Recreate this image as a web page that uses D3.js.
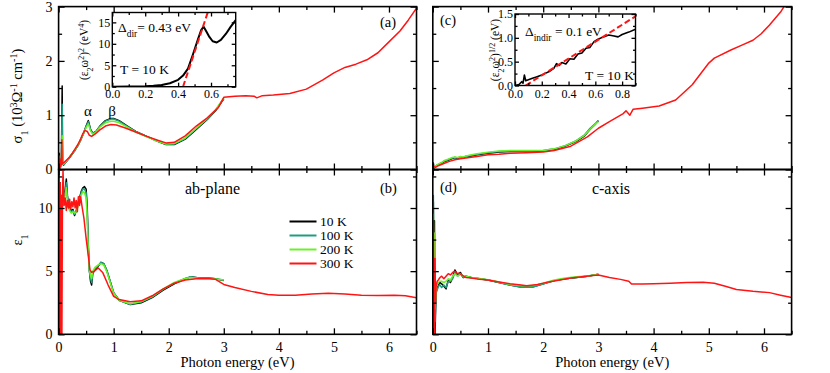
<!DOCTYPE html>
<html>
<head>
<meta charset="utf-8">
<script src="https://cdn.jsdelivr.net/npm/d3@7"></script>
<style>
  body { margin: 0; background: #fff; }
  svg { display: block; }
</style>
</head>
<body>
<div id="chart"></div>
<script>
// ---- data ----
const temps = ["10 K", "100 K", "200 K", "300 K"];
const colors = ["#000000", "#1f9e7e", "#6cf02a", "#ff1414"];

const energyTicks = [0, 1, 2, 3, 4, 5, 6];
const sigmaTicks = [0, 1, 2, 3];
const epsTicks = [0, 5, 10];

// (a) ab-plane sigma1, low temperatures (0 - 3 eV)
const eAbLow = [0.0, 0.01, 0.02, 0.03, 0.05, 0.065, 0.07, 0.075, 0.09, 0.12, 0.16, 0.2, 0.25, 0.3, 0.35, 0.4, 0.45, 0.5, 0.54, 0.58, 0.62, 0.68, 0.75, 0.85, 0.95, 1.0, 1.1, 1.25, 1.4, 1.6, 1.8, 1.95, 2.1, 2.3, 2.5, 2.7, 2.85, 3.0];
const sigAb10 = [-0.3, 0.3, 0.02, 0.08, 0.1, 1.54, 0.5, 0.1, 0.08, 0.12, 0.17, 0.22, 0.29, 0.36, 0.44, 0.54, 0.66, 0.8, 0.9, 0.74, 0.67, 0.7, 0.8, 0.9, 0.94, 0.94, 0.9, 0.8, 0.7, 0.61, 0.52, 0.46, 0.46, 0.56, 0.74, 0.92, 1.08, 1.3];
const sigAb100 = [-0.2, 0.25, 0.03, 0.1, 0.1, 1.2, 0.4, 0.1, 0.09, 0.12, 0.17, 0.22, 0.29, 0.36, 0.44, 0.55, 0.66, 0.79, 0.88, 0.73, 0.66, 0.7, 0.8, 0.89, 0.93, 0.93, 0.89, 0.79, 0.7, 0.61, 0.52, 0.47, 0.47, 0.57, 0.75, 0.93, 1.09, 1.31];
const sigAb200 = [-0.1, 0.2, 0.04, 0.1, 0.1, 0.62, 0.3, 0.11, 0.1, 0.13, 0.18, 0.23, 0.3, 0.37, 0.45, 0.55, 0.66, 0.77, 0.84, 0.71, 0.65, 0.69, 0.78, 0.86, 0.89, 0.89, 0.86, 0.78, 0.69, 0.6, 0.52, 0.47, 0.48, 0.58, 0.76, 0.94, 1.1, 1.32];
// (a) 300 K over the full range
const eAb300 = [0.0, 0.02, 0.04, 0.05, 0.06, 0.065, 0.07, 0.09, 0.12, 0.16, 0.2, 0.25, 0.3, 0.35, 0.4, 0.44, 0.48, 0.52, 0.56, 0.6, 0.66, 0.75, 0.85, 0.95, 1.05, 1.2, 1.4, 1.6, 1.8, 1.95, 2.1, 2.3, 2.5, 2.7, 2.9, 3.0, 3.2, 3.4, 3.55, 3.6, 3.7, 3.9, 4.2, 4.5, 4.8, 5.0, 5.2, 5.4, 5.6, 5.8, 6.0, 6.2, 6.35, 6.5];
const sigAb300 = [-0.5, 0.2, 0.05, 0.1, 0.55, 0.1, 0.13, 0.12, 0.15, 0.19, 0.23, 0.3, 0.38, 0.46, 0.56, 0.66, 0.72, 0.7, 0.63, 0.61, 0.65, 0.73, 0.8, 0.83, 0.82, 0.77, 0.69, 0.61, 0.54, 0.49, 0.5, 0.62, 0.8, 0.95, 1.14, 1.33, 1.35, 1.36, 1.35, 1.32, 1.36, 1.37, 1.4, 1.48, 1.65, 1.78, 1.88, 1.94, 2.02, 2.15, 2.35, 2.55, 2.75, 2.97];

// (b) ab-plane epsilon1
const eEpsAbLow = [0.0, 0.01, 0.02, 0.03, 0.04, 0.05, 0.06, 0.08, 0.1, 0.12, 0.14, 0.16, 0.18, 0.2, 0.23, 0.26, 0.29, 0.32, 0.35, 0.38, 0.41, 0.44, 0.47, 0.5, 0.52, 0.54, 0.56, 0.58, 0.6, 0.62, 0.66, 0.72, 0.77, 0.82, 0.88, 0.95, 1.0, 1.1, 1.3, 1.5, 1.7, 1.9, 2.1, 2.3, 2.4, 2.55, 2.7, 2.85, 3.0];
const epsAb10 = [2, -10, 5, 12, 2, 10, 11, 10.5, 11, 11.5, 12.3, 11.0, 10.2, 10.0, 9.8, 9.9, 9.4, 9.8, 10.3, 10.8, 11.3, 11.6, 11.7, 11.5, 10.0, 7.0, 5.0, 4.2, 3.9, 4.8, 5.1, 5.4, 5.7, 5.6, 5.0, 4.0, 3.3, 2.7, 2.35, 2.5, 2.9, 3.5, 4.0, 4.4, 4.55, 4.45, 4.45, 4.4, 4.25];
const epsAb100 = [1, -8, 6, 11, 3, 10, 10.8, 10.4, 10.9, 11.3, 12.0, 10.8, 10.1, 9.9, 9.7, 9.8, 9.5, 9.7, 10.2, 10.7, 11.2, 11.5, 11.5, 11.2, 9.6, 6.8, 5.0, 4.4, 4.1, 4.9, 5.2, 5.45, 5.7, 5.6, 5.0, 4.0, 3.3, 2.7, 2.38, 2.55, 2.95, 3.55, 4.05, 4.42, 4.55, 4.45, 4.45, 4.4, 4.3];
const epsAb200 = [0, -6, 7, 10, 4, 9.8, 10.5, 10.2, 10.7, 11.0, 11.6, 10.6, 10.0, 9.8, 9.6, 9.7, 9.6, 9.7, 10.1, 10.6, 11.0, 11.3, 11.2, 10.8, 9.0, 6.5, 5.1, 4.6, 4.4, 5.0, 5.3, 5.5, 5.6, 5.5, 4.9, 3.9, 3.25, 2.7, 2.42, 2.6, 3.0, 3.6, 4.1, 4.42, 4.5, 4.42, 4.42, 4.38, 4.3];
const eEpsAb300 = [0.0, 0.01, 0.02, 0.03, 0.04, 0.05, 0.06, 0.07, 0.08, 0.1, 0.12, 0.14, 0.16, 0.18, 0.2, 0.22, 0.24, 0.26, 0.28, 0.3, 0.32, 0.34, 0.36, 0.38, 0.4, 0.43, 0.46, 0.5, 0.54, 0.57, 0.6, 0.65, 0.72, 0.8, 0.9, 1.0, 1.1, 1.3, 1.5, 1.7, 1.9, 2.1, 2.3, 2.5, 2.7, 2.85, 3.0, 3.2, 3.5, 3.8, 4.0, 4.3, 4.6, 4.9, 5.2, 5.5, 5.8, 6.1, 6.3, 6.5];
const epsAb300 = [-20, 13, -10, 12, -5, 11, 0, 10.5, 13, 10.2, 10.8, 9.8, 10.6, 10.0, 10.7, 9.9, 10.5, 10.1, 10.8, 10.0, 10.6, 9.7, 10.9, 10.2, 10.9, 10.0, 9.2, 7.6, 6.2, 5.1, 4.9, 5.0, 5.25, 4.9, 3.9, 3.0, 2.75, 2.58, 2.65, 3.05, 3.6, 4.05, 4.3, 4.4, 4.42, 4.35, 3.95, 3.7, 3.4, 3.15, 3.1, 3.1, 3.2, 3.25, 3.2, 3.1, 3.08, 3.1, 3.05, 2.9];

// (c) c-axis sigma1
const eCLow = [0.0, 0.01, 0.02, 0.03, 0.05, 0.08, 0.12, 0.16, 0.2, 0.25, 0.3, 0.35, 0.4, 0.45, 0.5, 0.55, 0.6, 0.7, 0.8, 1.0, 1.2, 1.4, 1.6, 1.8, 2.0, 2.2, 2.4, 2.6, 2.75, 2.85, 2.95, 3.0];
const sigC10 = [0.0, 0.12, 0.02, 0.05, 0.05, 0.08, 0.1, 0.12, 0.14, 0.16, 0.18, 0.2, 0.22, 0.2, 0.23, 0.21, 0.24, 0.25, 0.27, 0.3, 0.32, 0.33, 0.33, 0.33, 0.34, 0.37, 0.43, 0.52, 0.62, 0.74, 0.84, 0.9];
const sigC100 = [0.0, 0.1, 0.03, 0.05, 0.06, 0.08, 0.1, 0.12, 0.15, 0.17, 0.19, 0.21, 0.22, 0.21, 0.23, 0.22, 0.24, 0.26, 0.28, 0.31, 0.33, 0.34, 0.34, 0.34, 0.35, 0.38, 0.44, 0.53, 0.64, 0.76, 0.85, 0.9];
const sigC200 = [0.0, 0.08, 0.03, 0.05, 0.06, 0.09, 0.11, 0.13, 0.16, 0.18, 0.2, 0.22, 0.23, 0.22, 0.24, 0.23, 0.25, 0.27, 0.29, 0.32, 0.34, 0.35, 0.35, 0.35, 0.35, 0.38, 0.44, 0.53, 0.63, 0.74, 0.84, 0.88];
const eC300 = [0.0, 0.02, 0.05, 0.1, 0.2, 0.3, 0.4, 0.5, 0.6, 0.8, 1.0, 1.2, 1.4, 1.7, 2.0, 2.2, 2.5, 2.8, 3.0, 3.2, 3.45, 3.5, 3.57, 3.63, 3.8, 4.1, 4.4, 4.7, 5.0, 5.1, 5.4, 5.6, 5.8, 5.95, 6.1, 6.3, 6.4];
const sigC300 = [0.0, 0.05, 0.04, 0.07, 0.11, 0.15, 0.18, 0.2, 0.21, 0.24, 0.27, 0.28, 0.3, 0.31, 0.32, 0.35, 0.43, 0.6, 0.76, 0.88, 1.03, 1.08, 1.0, 1.11, 1.13, 1.17, 1.28, 1.56, 1.96, 2.05, 2.2, 2.29, 2.38, 2.5, 2.66, 2.9, 3.06];

// (d) c-axis epsilon1
const eDLow = [0.0, 0.01, 0.02, 0.03, 0.04, 0.06, 0.08, 0.1, 0.13, 0.16, 0.2, 0.24, 0.28, 0.32, 0.36, 0.4, 0.45, 0.5, 0.55, 0.6, 0.7, 0.85, 1.0, 1.2, 1.4, 1.6, 1.8, 2.0, 2.2, 2.4, 2.6, 2.8, 3.0];
const epsD10 = [-5, 10.5, 3, 9, 0, 3.5, 3.6, 3.9, 4.1, 4.0, 3.8, 3.6, 4.3, 4.1, 4.5, 5.1, 4.7, 4.9, 4.5, 4.6, 4.5, 4.4, 4.3, 4.1, 3.9, 3.75, 3.75, 4.0, 4.25, 4.4, 4.5, 4.6, 4.75];
const epsD100 = [-4, 11, 2, 8, 1, 3.3, 3.5, 3.8, 3.9, 3.7, 3.9, 3.7, 4.2, 4.2, 4.4, 4.9, 4.6, 4.8, 4.5, 4.6, 4.45, 4.4, 4.3, 4.1, 3.9, 3.72, 3.72, 3.98, 4.25, 4.4, 4.5, 4.6, 4.75];
const epsD200 = [-3, 9.5, 4, 8, 2, 3.8, 3.9, 4.1, 4.2, 4.2, 4.1, 4.2, 4.4, 4.3, 4.6, 4.8, 4.6, 4.8, 4.6, 4.6, 4.5, 4.42, 4.33, 4.15, 3.95, 3.85, 3.85, 4.05, 4.3, 4.45, 4.55, 4.62, 4.75];
const eD300 = [0.0, 0.01, 0.02, 0.03, 0.04, 0.05, 0.06, 0.08, 0.1, 0.13, 0.16, 0.2, 0.24, 0.28, 0.32, 0.36, 0.4, 0.44, 0.48, 0.52, 0.56, 0.6, 0.7, 0.85, 1.0, 1.2, 1.4, 1.6, 1.7, 1.9, 2.1, 2.3, 2.5, 2.7, 2.9, 3.0, 3.2, 3.4, 3.55, 3.6, 3.8, 4.0, 4.3, 4.6, 4.9, 5.1, 5.3, 5.5, 5.8, 6.1, 6.3, 6.5];
const epsD300 = [-5, 9, 2, -8, 6, 2.5, 3.8, 4.2, 4.3, 4.5, 4.6, 4.4, 4.6, 4.8, 4.7, 4.9, 5.0, 4.8, 4.85, 4.7, 4.6, 4.5, 4.45, 4.35, 4.3, 4.15, 4.0, 3.9, 3.85, 3.95, 4.15, 4.3, 4.45, 4.55, 4.65, 4.7, 4.5, 4.35, 4.2, 3.98, 3.98, 4.0, 4.05, 4.1, 4.12, 4.05, 3.8, 3.55, 3.4, 3.3, 3.1, 2.92];

// insets
const insetAE = [0.0, 0.1, 0.2, 0.25, 0.3, 0.35, 0.4, 0.43, 0.46, 0.49, 0.52, 0.54, 0.555, 0.57, 0.59, 0.61, 0.635, 0.66, 0.69, 0.72, 0.75];
const insetAV = [0.0, 0.02, 0.1, 0.2, 0.4, 0.8, 1.6, 2.6, 4.2, 7.5, 11.0, 13.2, 14.0, 13.0, 11.6, 10.6, 10.3, 10.9, 12.3, 14.0, 15.5];
const fitAE = [0.43, 0.58];
const fitAV = [0, 17.3];
const insetATicksX = [0, 0.2, 0.4, 0.6];
const insetATicksY = [0, 5, 10, 15];

const insetCE = [0.0, 0.03, 0.05, 0.06, 0.07, 0.08, 0.1, 0.13, 0.16, 0.2, 0.23, 0.26, 0.29, 0.31, 0.33, 0.35, 0.38, 0.41, 0.44, 0.47, 0.5, 0.53, 0.56, 0.59, 0.62, 0.66, 0.7, 0.74, 0.77, 0.8, 0.85, 0.9];
const insetCV = [0.0, 0.02, 0.08, 0.05, 0.22, 0.1, 0.12, 0.15, 0.18, 0.22, 0.26, 0.3, 0.36, 0.46, 0.42, 0.48, 0.45, 0.56, 0.55, 0.66, 0.68, 0.78, 0.8, 0.92, 0.97, 1.02, 1.06, 1.04, 1.02, 1.07, 1.12, 1.18];
const fitCE = [0.08, 0.9];
const fitCV = [0, 1.45];
const insetCTicksX = [0, 0.2, 0.4, 0.6, 0.8];
const insetCTicksY = [0, 0.5, 1.0, 1.5];

// ---- layout ----
const width = 830, height = 373;
const serif = "Liberation Serif";

const svg = d3.select("#chart").append("svg")
  .attr("width", width)
  .attr("height", height);

const xL = d3.scaleLinear().domain([0, 6.5]).range([58.6, 416.5]);
const xR = d3.scaleLinear().domain([0, 6.5]).range([432.8, 791.6]);
const ySig = d3.scaleLinear().domain([0, 3]).range([169.5, 6.6]);
const yEps = d3.scaleLinear().domain([0, 13.05]).range([334.3, 169.5]);

const xIA = d3.scaleLinear().domain([0, 0.75]).range([112.3, 235.7]);
const yIA = d3.scaleLinear().domain([0, 17.3]).range([86.7, 12.5]);
const xIC = d3.scaleLinear().domain([0, 0.9]).range([515, 635.5]);
const yIC = d3.scaleLinear().domain([0, 1.5]).range([85.5, 14]);

function zip(e, v) {
  return e.map((d, i) => ({ x: d, y: v[i] }));
}

// inward ticks on a panel side, labels optional
function side(g, scale, orient, pos, vals, size, labels, fs, pad) {
  const make = { bottom: d3.axisBottom, top: d3.axisTop, left: d3.axisLeft, right: d3.axisRight }[orient];
  const ax = make(scale).tickValues(vals).tickSizeInner(-size).tickSizeOuter(0)
    .tickPadding(pad || 3)
    .tickFormat(labels ? ((d, i) => labels[i]) : () => "");
  const horiz = orient === "bottom" || orient === "top";
  const a = g.append("g")
    .attr("transform", horiz ? "translate(0," + pos + ")" : "translate(" + pos + ",0)")
    .call(ax);
  a.select(".domain").remove();
  a.selectAll("line").attr("stroke", "#000").attr("stroke-width", 1.3);
  a.selectAll("text")
    .style("font-family", serif)
    .style("font-size", (fs || 14) + "px")
    .attr("fill", "#000");
}

function minors(majors, step) {
  return majors.slice(0, -1).map(d => d + step / 2);
}

let clipN = 0;
function panel(x, y, series, opt) {
  const g = svg.append("g");
  const id = "clip" + (clipN++);
  const [x0, x1] = x.range();
  const [y0, y1] = y.range();
  svg.append("clipPath").attr("id", id).append("rect")
    .attr("x", x0).attr("y", y1).attr("width", x1 - x0).attr("height", y0 - y1);

  const line = d3.line().x(d => x(d.x)).y(d => y(d.y));
  const data = g.append("g").attr("clip-path", "url(#" + id + ")");
  series.forEach(s => {
    data.append("path")
      .datum(zip(s.e, s.v))
      .attr("fill", "none")
      .attr("stroke", s.color)
      .attr("stroke-width", s.w || 1.5)
      .attr("stroke-linejoin", "round")
      .attr("stroke-dasharray", s.dash || null)
      .attr("d", line);
  });

  const xMin = minors(opt.xMaj.concat([opt.xMaj[opt.xMaj.length - 1] + opt.xStep]), opt.xStep)
    .filter(d => d <= x.domain()[1]);
  const yMin = minors(opt.yMaj.concat([opt.yMaj[opt.yMaj.length - 1] + opt.yStep]), opt.yStep)
    .filter(d => d <= y.domain()[1]);
  const big = opt.big || 6, small = opt.small || 3.5;

  side(g, x, "bottom", y0, opt.xMaj, big, opt.xLabels, opt.fs, opt.xPad);
  side(g, x, "bottom", y0, xMin, small);
  side(g, x, "top", y1, opt.xMaj, big);
  side(g, x, "top", y1, xMin, small);
  side(g, y, "left", x0, opt.yMaj, big, opt.yLabels, opt.fs, opt.yPad);
  side(g, y, "left", x0, yMin, small);
  side(g, y, "right", x1, opt.yMaj, big);
  side(g, y, "right", x1, yMin, small);

  g.append("rect")
    .attr("x", x0).attr("y", y1).attr("width", x1 - x0).attr("height", y0 - y1)
    .attr("fill", "none").attr("stroke", "#000").attr("stroke-width", opt.frame || 1.6);
  return g;
}

const energyLabels = energyTicks.map(String);

// (a)
panel(xL, ySig, [
  { e: eAbLow, v: sigAb10, color: colors[0] },
  { e: eAbLow, v: sigAb100, color: colors[1] },
  { e: eAbLow, v: sigAb200, color: colors[2] },
  { e: eAb300, v: sigAb300, color: colors[3] }
], { xMaj: energyTicks, xStep: 1, yMaj: sigmaTicks, yStep: 1, yLabels: sigmaTicks.map(String), yPad: 6 });

// (b)
panel(xL, yEps, [
  { e: eEpsAbLow, v: epsAb10, color: colors[0] },
  { e: eEpsAbLow, v: epsAb100, color: colors[1] },
  { e: eEpsAbLow, v: epsAb200, color: colors[2] },
  { e: eEpsAb300, v: epsAb300, color: colors[3] }
], { xMaj: energyTicks, xStep: 1, xLabels: energyLabels, xPad: 8, yMaj: epsTicks, yStep: 5, yLabels: epsTicks.map(String), yPad: 6 });

// (c)
panel(xR, ySig, [
  { e: eCLow, v: sigC10, color: colors[0] },
  { e: eCLow, v: sigC100, color: colors[1] },
  { e: eCLow, v: sigC200, color: colors[2] },
  { e: eC300, v: sigC300, color: colors[3] }
], { xMaj: energyTicks, xStep: 1, yMaj: sigmaTicks, yStep: 1 });

// (d)
panel(xR, yEps, [
  { e: eDLow, v: epsD10, color: colors[0] },
  { e: eDLow, v: epsD100, color: colors[1] },
  { e: eDLow, v: epsD200, color: colors[2] },
  { e: eD300, v: epsD300, color: colors[3] }
], { xMaj: energyTicks, xStep: 1, xLabels: energyLabels, xPad: 8, yMaj: epsTicks, yStep: 5 });

// insets (white background first)
[[xIA, yIA], [xIC, yIC]].forEach(([x, y]) => {
  svg.append("rect")
    .attr("x", x.range()[0]).attr("y", y.range()[1])
    .attr("width", x.range()[1] - x.range()[0]).attr("height", y.range()[0] - y.range()[1])
    .attr("fill", "#fff");
});

panel(xIA, yIA, [
  { e: insetAE, v: insetAV, color: "#000", w: 2 },
  { e: fitAE, v: fitAV, color: colors[3], w: 2, dash: "6,3" }
], { xMaj: insetATicksX, xStep: 0.2, xLabels: insetATicksX.map(d => d.toFixed(1)), xPad: 3,
     yMaj: insetATicksY, yStep: 5, yLabels: insetATicksY.map(String), yPad: 2,
     fs: 12, big: 4, small: 2.5, frame: 1.4 });

panel(xIC, yIC, [
  { e: insetCE, v: insetCV, color: "#000", w: 1.6 },
  { e: fitCE, v: fitCV, color: colors[3], w: 2, dash: "6,3" }
], { xMaj: insetCTicksX, xStep: 0.2, xLabels: insetCTicksX.map(d => d.toFixed(1)), xPad: 4,
     yMaj: insetCTicksY, yStep: 0.5, yLabels: insetCTicksY.map(d => d.toFixed(1)), yPad: 2,
     fs: 12, big: 4, small: 2.5, frame: 1.4 });

// ---- text ----
function txt(x, y, size, anchor) {
  return svg.append("text").attr("x", x).attr("y", y)
    .style("font-family", serif)
    .style("font-size", size + "px")
    .attr("text-anchor", anchor || "start").attr("fill", "#000");
}
function rich(t, parts) {
  parts.forEach(p => {
    const s = t.append("tspan").text(p[0]);
    if (p[1] === "sub") s.attr("baseline-shift", "sub").style("font-size", "70%");
    if (p[1] === "sup") s.attr("baseline-shift", "super").style("font-size", "70%");
  });
  return t;
}

// axis titles
rich(txt(0, 0, 14.5, "middle").attr("transform", "translate(22,96) rotate(-90)"),
  [["σ"], ["1", "sub"], [" (10"], ["3", "sup"], ["Ω"], ["-1", "sup"], [" cm"], ["-1", "sup"], [")"]]);
rich(txt(0, 0, 14.5, "middle").attr("transform", "translate(22,240) rotate(-90)"),
  [["ε"], ["1", "sub"]]);
txt((xL.range()[0] + xL.range()[1]) / 2, 367, 14.5, "middle").text("Photon energy (eV)");
txt((xR.range()[0] + xR.range()[1]) / 2, 367, 14.5, "middle").text("Photon energy (eV)");

// inset titles
rich(txt(0, 0, 11.5, "middle").attr("transform", "translate(88,50) rotate(-90)"),
  [["(ε"], ["2", "sub"], ["ω"], ["2", "sup"], [")"], ["2", "sup"], [" (eV"], ["4", "sup"], [")"]]);
rich(txt(0, 0, 11.5, "middle").attr("transform", "translate(499,50) rotate(-90)"),
  [["(ε"], ["2", "sub"], ["ω"], ["2", "sup"], [")"], ["1/2", "sup"], [" (eV)"]]);

rich(txt(118, 32, 13.5), [["Δ"], ["dir", "sub"], ["= 0.43 eV"]]);
txt(120, 74, 13.5).text("T = 10 K");
rich(txt(525, 36, 13.5), [["Δ"], ["indir", "sub"], [" = 0.1 eV"]]);
txt(634, 80, 13.5, "end").text("T = 10 K");

// panel tags
txt(380, 27, 14.5).text("(a)");
txt(380, 193, 14.5).text("(b)");
txt(440, 25, 14.5).text("(c)");
txt(440, 192, 14.5).text("(d)");
txt(212.5, 194, 16, "middle").text("ab-plane");
txt(611, 194, 16, "middle").text("c-axis");
txt(88, 116, 15, "middle").text("α");
txt(112, 116, 15, "middle").text("β");

// legend
const leg = svg.append("g");
temps.forEach((t, i) => {
  const y = 221.5 + i * 14;
  leg.append("line").attr("x1", 289.5).attr("x2", 316.5).attr("y1", y).attr("y2", y)
    .attr("stroke", colors[i]).attr("stroke-width", 2);
  leg.append("text").attr("x", 320).attr("y", y).attr("dy", "0.35em")
    .style("font-family", serif)
    .style("font-size", "13.5px").attr("fill", "#000").text(t);
});
</script>
</body>
</html>
